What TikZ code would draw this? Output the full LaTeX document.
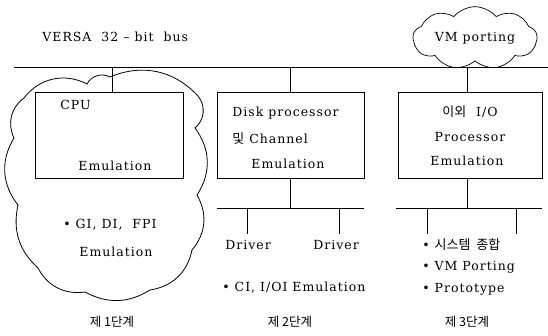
\documentclass[tikz,border=0pt]{standalone}
\usepackage{fontspec}
\setmainfont[LetterSpace=8]{DejaVu Serif}
\newfontfamily\kr{Noto Sans CJK KR}
\usetikzlibrary{shapes.symbols}
\begin{document}
\begin{tikzpicture}[x=1pt,y=-1pt,
  line width=0.7pt,
  box/.style={draw, minimum width=#1, minimum height=86pt, inner sep=0pt},
  lbl/.style={font=\fontsize{12.5}{14}\selectfont, inner sep=0pt},
  klbl/.style={font=\kr\fontsize{12.5}{14}\selectfont, inner sep=0pt},
  wire/.style={line width=0.7pt}]
\useasboundingbox (0,0) rectangle (548,335);

% big cloud (stage 1)
\draw[line width=0.8pt]
  (24,98) to[bend left=40] (87,84) to[bend left=45] (110,77)
  to[bend left=35] (198,96) to[bend left=45] (195,128)
  to[bend left=35] (197,195) to[bend left=35] (192,250)
  to[bend left=35] (150,290) to[bend left=30] (85,292)
  to[bend left=35] (38,268) to[bend left=30] (18,205)
  to[bend left=35] (14,138) to[bend left=40] cycle;

% bus
\coordinate (busL) at (14,67);
\coordinate (busR) at (548,67);
\draw[wire] (busL) -- (busR);
\node[lbl, anchor=west] (versa) at (42,37) {VERSA\ \ 32 – bit\ \ bus};
\node[cloud, draw, cloud puffs=9, cloud puff arc=100, aspect=2.4, minimum width=124pt, minimum height=52pt, inner sep=0pt, font=\fontsize{12.5}{14}\selectfont] (vm) at (475,38) {VM porting};

% boxes
\node[box=148pt] (cpu) at (109,135) {};
\node[box=147pt] (disk) at (290.5,135) {};
\node[box=144pt] (io) at (470,135) {};

\draw[wire] (cpu.north -| 112,0) -- (112,67);
\draw[wire] (disk.north) -- (disk.north |- busL);
\draw[wire] (io.north -| 467,0) -- (467,67);

% cpu texts
\node[lbl, anchor=west] (cputxt) at (60,105) {CPU};
\node[lbl] (cpuemu) at (115,166) {Emulation};
\node[lbl, anchor=west] (gi) at (63,225) {• GI, DI,\ \ FPI};
\node[lbl] (giemu) at (116,252) {Emulation};

% disk texts
\node[lbl, anchor=west] (d1) at (232,113) {Disk processor};
\node[lbl, anchor=west] (d2) at (232,139) {{\kr\fontsize{13}{14}\selectfont 및}\ Channel};
\node[lbl] (d3) at (288,164) {Emulation};

% io texts
\node[lbl] (i1) at (470,112) {{\kr\fontsize{13}{14}\selectfont 이외}\ \ I/O};
\node[lbl] (i2) at (470,137) {Processor};
\node[lbl] (i3) at (467,161) {Emulation};

% disk sub-bus
\coordinate (dsL) at (217,208);
\coordinate (dsR) at (364,208);
\draw[wire] (290,178) -- (290,208);
\draw[wire] (dsL) -- (dsR);
\node[lbl] (drv1) at (248,245) {Driver};
\node[lbl] (drv2) at (336,245) {Driver};
\draw[wire] (247,234) -- (247,208);
\draw[wire] (339,234) -- (339,208);
\node[lbl, anchor=west] (ci) at (222,288) {• CI,\ I/OI Emulation};

% io sub-bus
\coordinate (isL) at (396,208);
\coordinate (isR) at (542,208);
\draw[wire] (467,178) -- (467,208);
\draw[wire] (isL) -- (isR);
\draw[wire] (427,234) -- (427,208);
\draw[wire] (516,234) -- (516,208);
\node[lbl, anchor=west] (b1) at (422,245) {• {\kr\fontsize{13}{14}\selectfont 시스템\ \ 종합}};
\node[lbl, anchor=west] (b2) at (422,267) {• VM Porting};
\node[lbl, anchor=west] (b3) at (422,289) {• Prototype};

% stage labels
\node[klbl] (s1) at (112,322) {제 1단계};
\node[klbl] (s2) at (290,322) {제 2단계};
\node[klbl] (s3) at (467,322) {제 3단계};
\end{tikzpicture}
\end{document}
